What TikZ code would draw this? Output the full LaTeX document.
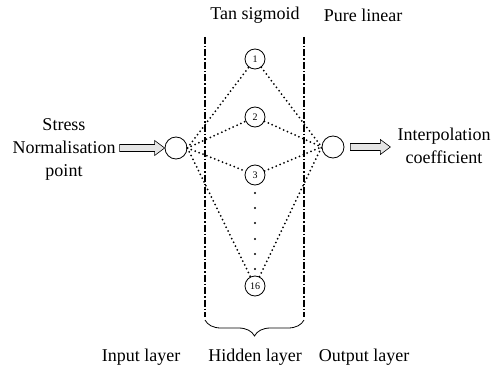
\documentclass[tikz,border=0pt]{standalone}
\usepackage{fontspec}
\setmainfont{Liberation Serif}
\usetikzlibrary{decorations.pathreplacing}
\begin{document}
\begin{tikzpicture}[x=1pt,y=-1pt,
  lbl/.style={font=\fontsize{18}{23}\selectfont, align=center, inner sep=0pt},
  unit/.style={circle, draw, line width=0.8pt, minimum size=22pt, inner sep=0pt},
  hid/.style={circle, draw, line width=0.8pt, minimum size=20pt, inner sep=0pt, font=\fontsize{10}{12}\selectfont},
  link/.style={line width=2pt, line cap=round, dash pattern=on 0pt off 4.2pt},
  divider/.style={line width=2.6pt, dash pattern=on 7pt off 2pt on 1.5pt off 2pt},
  dotmark/.style={circle, fill, inner sep=0pt, minimum size=2.4pt},
  flow/.style={draw, line width=0.6pt, fill=gray!20, line join=miter}
]
\useasboundingbox (0,0) rectangle (498,369);

% layer boundaries
\draw[divider] (205,37) -- (205,317);
\draw[divider] (304,37) -- (304,317);

% units
\node[unit] (in)  at (176,148) {};
\node[unit] (out) at (333,147) {};
\node[hid] (h1)  at (255,59)  {1};
\node[hid] (h2)  at (255,117) {2};
\node[hid] (h3)  at (255,175) {3};
\node[hid] (h16) at (255,286) {16};

% omitted hidden units
\foreach \yy in {193,208,223,239,254,269}
  \node[dotmark] at (255,\yy) {};

% weighted links
\foreach \h in {h1,h2,h3,h16} {
  \draw[link] (in.east) -- (\h);
  \draw[link] (\h) -- (out.west);
}

% texts
\node[lbl] (intext)  at (64,149) {Stress\\Normalisation\\point};
\node[lbl] (outtext) at (444,146) {Interpolation\\coefficient};
\node[lbl] (tanlbl)  at (255,15) {Tan sigmoid};
\node[lbl] (purelbl) at (363,15) {Pure linear};
\node[lbl] (inlbl)   at (141,357) {Input layer};
\node[lbl] (hidlbl)  at (255,357) {Hidden layer};
\node[lbl] (outlbl)  at (364,357) {Output layer};

% input and output arrows
\draw[flow] (in.west) -- ++(-10,-7.5) -- ++(0,4) -- ++(-35,0) -- ++(0,7) -- ++(35,0) -- ++(0,4) -- cycle;
\draw[flow] ([xshift=6pt]out.east) -- ++(0,-3.5) -- ++(30,0) -- ++(0,-4) -- ++(10,7.5) -- ++(-10,7.5) -- ++(0,-4) -- ++(-30,0) -- cycle;

% hidden layer brace
\draw[decorate, decoration={brace, amplitude=16pt, mirror}, line width=0.8pt] (205,320) -- (304,320);
\end{tikzpicture}
\end{document}
